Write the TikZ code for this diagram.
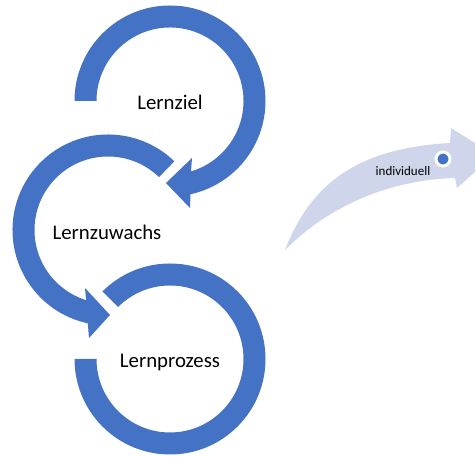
\documentclass[tikz,border=0pt]{standalone}
\usepackage{fontspec}
\setmainfont{Carlito}
\definecolor{ringblue}{HTML}{4472C4}
\definecolor{lightarrow}{HTML}{CFD5EA}
\begin{document}
\begin{tikzpicture}[x=1pt,y=1pt,
  ring/.style={fill=ringblue,draw=none},
  bigtext/.style={font=\fontsize{20.8}{24}\selectfont,text=black,inner sep=0pt},
  smalltext/.style={font=\fontsize{13}{15}\selectfont,text=black,inner sep=0pt}]
\useasboundingbox (0,0) rectangle (475,457);
\clip (0,0) rectangle (475,457);
% centres
\coordinate (c1) at (170,356);
\coordinate (c2) at (108,227);
\coordinate (c3) at (170,98);
% light arrow
\fill[lightarrow] (285,207) .. controls (312,277) and (362,309) .. (450,314)
  -- (451,329) -- (494,302) -- (457,269) -- (455,279)
  .. controls (390,277) and (330,252) .. (285,207) -- cycle;
% circle 1 (Lernziel)
\begin{scope}[shift={(c1)}]
\fill[ring] (180:95.5) arc[start angle=180,end angle=-77.6,radius=95.5]
  -- (20,-107) -- (-4,-82) -- (22,-57) -- (-73.4:73.5)
  arc[start angle=-73.4,end angle=180,radius=73.5] -- cycle;
\end{scope}
% circle 2 (Lernzuwachs)
\begin{scope}[shift={(c2)}]
\fill[ring] (46:73.5) arc[start angle=46,end angle=252.7,radius=73.5]
  -- (-23,-58) -- (2,-85) -- (-19,-108) -- (257.8:95.5)
  arc[start angle=257.8,end angle=46,radius=95.5] -- cycle;
\end{scope}
% circle 3 (Lernprozess)
\begin{scope}[shift={(c3)}]
\fill[ring] (135:95.5) arc[start angle=135,end angle=-180,radius=95.5]
  -- (-180:73.5) arc[start angle=-180,end angle=135,radius=73.5] -- cycle;
\end{scope}
% texts
\node[bigtext] (t1) at (170,355) {Lernziel};
\node[bigtext] (t2) at (107,225) {Lernzuwachs};
\node[bigtext] (t3) at (170,94) {Lernprozess};
\node[smalltext] (t4) at (403,286) {individuell};
% dot
\node[circle,fill=ringblue,draw=white,line width=3pt,minimum size=14pt,inner sep=0pt] (dot) at (443,298) {};
\end{tikzpicture}
\end{document}
